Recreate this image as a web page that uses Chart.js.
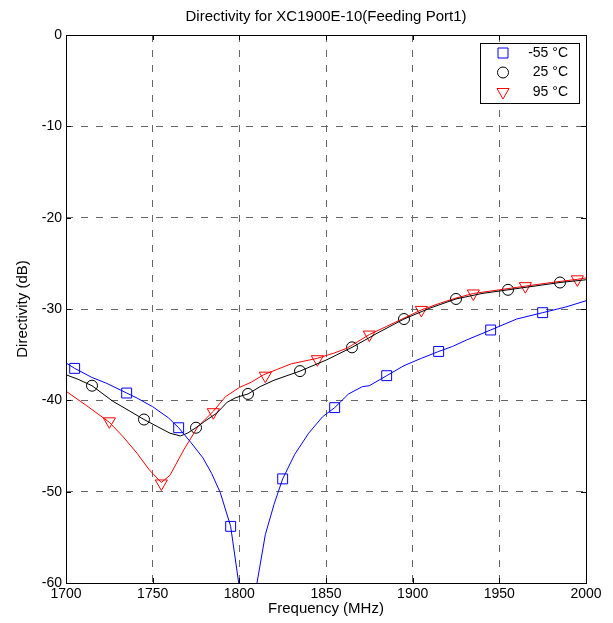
<!DOCTYPE html>
<html>
<head>
<meta charset="utf-8">
<script src="https://cdn.jsdelivr.net/npm/chart.js@4/dist/chart.umd.min.js"></script>
<style>
  html, body { margin: 0; padding: 0; background: #fff; }
  #wrap { width: 613px; height: 623px; }
</style>
</head>
<body>
<div id="wrap"><canvas id="chart" width="613" height="623"></canvas></div>
<script>
const chartTitle = "Directivity for XC1900E-10(Feeding Port1)";
const xTicks = [1700, 1750, 1800, 1850, 1900, 1950, 2000];
const yTicks = [-60, -50, -40, -30, -20, -10, 0];

// measured curves (MHz, dB)
const coldX = [1700, 1705, 1715, 1723, 1735, 1741, 1750, 1759, 1765, 1772, 1779, 1784, 1789, 1795, 1800, 1805, 1810, 1815, 1820, 1825, 1832, 1840, 1848, 1855, 1863, 1871, 1875, 1885, 1895, 1905, 1915, 1923, 1931, 1945, 1960, 1975, 1988, 2000];
const coldY = [-35.9, -36.5, -37.5, -38.1, -39.2, -39.75, -40.7, -41.9, -43.0, -44.6, -46.3, -48.0, -50.1, -53.8, -60.5, -72, -60.2, -54.7, -51.4, -48.6, -45.9, -43.6, -41.8, -40.8, -39.3, -38.5, -38.4, -37.3, -36.2, -35.4, -34.65, -34.1, -33.4, -32.3, -31.1, -30.4, -29.8, -29.1];

const roomX = [1700, 1707, 1715, 1727, 1737, 1745, 1753, 1760, 1766, 1770, 1775, 1780, 1787, 1793, 1798, 1805, 1812, 1820, 1835, 1850, 1865, 1880, 1895, 1910, 1925, 1940, 1955, 1970, 1985, 2000];
const roomY = [-37.2, -37.7, -38.4, -40.1, -41.2, -42.1, -42.9, -43.6, -43.9, -43.6, -43.0, -42.3, -41.4, -40.2, -39.7, -39.3, -38.5, -37.8, -36.8, -35.6, -34.2, -32.6, -31.1, -29.9, -28.9, -28.3, -27.9, -27.5, -27.1, -26.8];

const hotX = [1700, 1712, 1725, 1733, 1741, 1748, 1755, 1760, 1768, 1776, 1785, 1792, 1800, 1807, 1814, 1822, 1830, 1845, 1855, 1862, 1875, 1885, 1895, 1905, 1916, 1925, 1935, 1950, 1965, 1980, 1995, 2000];
const hotY = [-39.0, -40.6, -42.4, -44.0, -45.8, -47.6, -49.0, -48.2, -45.4, -42.9, -41.2, -39.6, -38.6, -38.0, -37.2, -36.6, -36.0, -35.4, -34.8, -34.3, -32.8, -31.9, -31.0, -30.1, -29.35, -28.8, -28.3, -27.9, -27.5, -27.1, -26.75, -26.6];

// marker positions
const coldMkX = [1705, 1735, 1765, 1795, 1825, 1855, 1885, 1915, 1945, 1975];
const coldMkY = [-36.5, -39.2, -43.0, -53.8, -48.6, -40.8, -37.3, -34.65, -32.3, -30.4];
const roomMkX = [1715, 1745, 1775, 1805, 1835, 1865, 1895, 1925, 1955, 1985];
const roomMkY = [-38.4, -42.1, -43.0, -39.3, -36.8, -34.2, -31.1, -28.9, -27.9, -27.1];
const hotMkX = [1725, 1755, 1785, 1815, 1845, 1875, 1905, 1935, 1965, 1995];
const hotMkY = [-42.3, -49.1, -41.3, -37.3, -35.5, -32.8, -30.1, -28.3, -27.5, -26.75];

const seriesNames = ["-55 \u00B0C", "25 \u00B0C", "95 \u00B0C"];

const pts = (xs, ys) => xs.map((x, i) => ({ x: x, y: ys[i] }));

const FONT = "'Liberation Sans', Arial, Helvetica, sans-serif";

const lineSet = (xs, ys, color) => ({
  data: pts(xs, ys),
  borderColor: color,
  borderWidth: 1,
  pointRadius: 0,
  tension: 0,
  fill: false,
});

const markSet = (label, xs, ys, color, style, r, rot) => ({
  label: label,
  data: pts(xs, ys),
  showLine: false,
  borderColor: color,
  backgroundColor: "rgba(0,0,0,0)",
  borderWidth: 1,
  pointStyle: style,
  pointRadius: r,
  pointRotation: rot,
  pointHoverRadius: r,
});

const drawMarker = (ctx, kind, x, y, color) => {
  ctx.save();
  ctx.strokeStyle = color;
  ctx.lineWidth = 1;
  ctx.beginPath();
  if (kind === "rect") {
    ctx.rect(x - 5, y - 5, 10, 10);
  } else if (kind === "circle") {
    ctx.arc(x, y, 5.5, 0, Math.PI * 2);
  } else {
    ctx.moveTo(x - 6, y - 3.5);
    ctx.lineTo(x + 6, y - 3.5);
    ctx.lineTo(x, y + 7);
    ctx.closePath();
  }
  ctx.stroke();
  ctx.restore();
};

// title, black box, inward ticks and the legend
const framePlugin = {
  id: "frame",
  afterDraw(chart) {
    const ctx = chart.ctx;
    const a = chart.chartArea;
    const xs = chart.scales.x;
    const ys = chart.scales.y;
    ctx.save();

    ctx.fillStyle = "#000";
    ctx.font = "15px " + FONT;
    ctx.textAlign = "center";
    ctx.textBaseline = "middle";
    ctx.fillText(chartTitle, (a.left + a.right) / 2, 17);

    ctx.strokeStyle = "#000";
    ctx.lineWidth = 1;
    ctx.strokeRect(Math.round(a.left) + 0.5, Math.round(a.top) + 0.5, Math.round(a.right - a.left), Math.round(a.bottom - a.top));
    ctx.beginPath();
    xTicks.forEach((v) => {
      const px = Math.round(xs.getPixelForValue(v)) + 0.5;
      ctx.moveTo(px, a.bottom); ctx.lineTo(px, a.bottom - 5);
      ctx.moveTo(px, a.top); ctx.lineTo(px, a.top + 5);
    });
    yTicks.forEach((v) => {
      const py = Math.round(ys.getPixelForValue(v)) + 0.5;
      ctx.moveTo(a.left, py); ctx.lineTo(a.left + 5, py);
      ctx.moveTo(a.right, py); ctx.lineTo(a.right - 5, py);
    });
    ctx.stroke();

    // legend box
    const lx = 480.5, ly = 43.5, lw = 99, lh = 60;
    ctx.fillStyle = "#fff";
    ctx.fillRect(lx, ly, lw, lh);
    ctx.strokeRect(lx, ly, lw, lh);
    const kinds = ["rect", "circle", "tri"];
    const colors = ["#0000ff", "#000000", "#ff0000"];
    ctx.font = "14px " + FONT;
    ctx.fillStyle = "#000";
    ctx.textAlign = "right";
    ctx.textBaseline = "middle";
    seriesNames.forEach((name, i) => {
      const cy = 53 + i * 19.5;
      drawMarker(ctx, kinds[i], 503, cy, colors[i]);
      ctx.fillText(name, 568, cy);
    });
    ctx.restore();
  },
};

new Chart(document.getElementById("chart"), {
  type: "line",
  data: {
    datasets: [
      lineSet(coldX, coldY, "#0000ff"),
      lineSet(roomX, roomY, "#000000"),
      lineSet(hotX, hotY, "#ff0000"),
      markSet(seriesNames[0], coldMkX, coldMkY, "#0000ff", "rect", 7, 0),
      markSet(seriesNames[1], roomMkX, roomMkY, "#000000", "circle", 5.5, 0),
      markSet(seriesNames[2], hotMkX, hotMkY, "#ff0000", "triangle", 7, 180),
    ],
  },
  options: {
    responsive: false,
    animation: false,
    events: [],
    layout: { padding: { left: 0, right: 27, top: 35, bottom: 0 } },
    plugins: {
      legend: { display: false },
      tooltip: { enabled: false },
      title: { display: false },
    },
    scales: {
      x: {
        type: "linear",
        min: 1700,
        max: 2000,
        afterFit: (s) => { s.height = 40; },
        afterBuildTicks: (s) => { s.ticks = xTicks.map((v) => ({ value: v })); },
        ticks: {
          color: "#000",
          font: { family: FONT, size: 14 },
          padding: 3,
          maxRotation: 0,
          callback: (v) => String(v),
        },
        grid: { color: "#666", lineWidth: 1, drawTicks: false },
        border: { display: false, dash: [7, 8] },
        title: {
          display: true,
          text: "Frequency (MHz)",
          color: "#000",
          font: { family: FONT, size: 15 },
          padding: { top: 0, bottom: 5 },
        },
      },
      y: {
        min: -60,
        max: 0,
        afterFit: (s) => { s.width = 66; },
        afterBuildTicks: (s) => { s.ticks = yTicks.map((v) => ({ value: v })); },
        ticks: {
          color: "#000",
          font: { family: FONT, size: 14 },
          padding: 4,
          callback: (v) => String(v),
        },
        grid: { color: "#666", lineWidth: 1, drawTicks: false },
        border: { display: false, dash: [7, 8] },
        title: {
          display: true,
          text: "Directivity (dB)",
          color: "#000",
          font: { family: FONT, size: 15 },
          padding: { top: 14, bottom: 0 },
        },
      },
    },
  },
  plugins: [framePlugin],
});
</script>
</body>
</html>
